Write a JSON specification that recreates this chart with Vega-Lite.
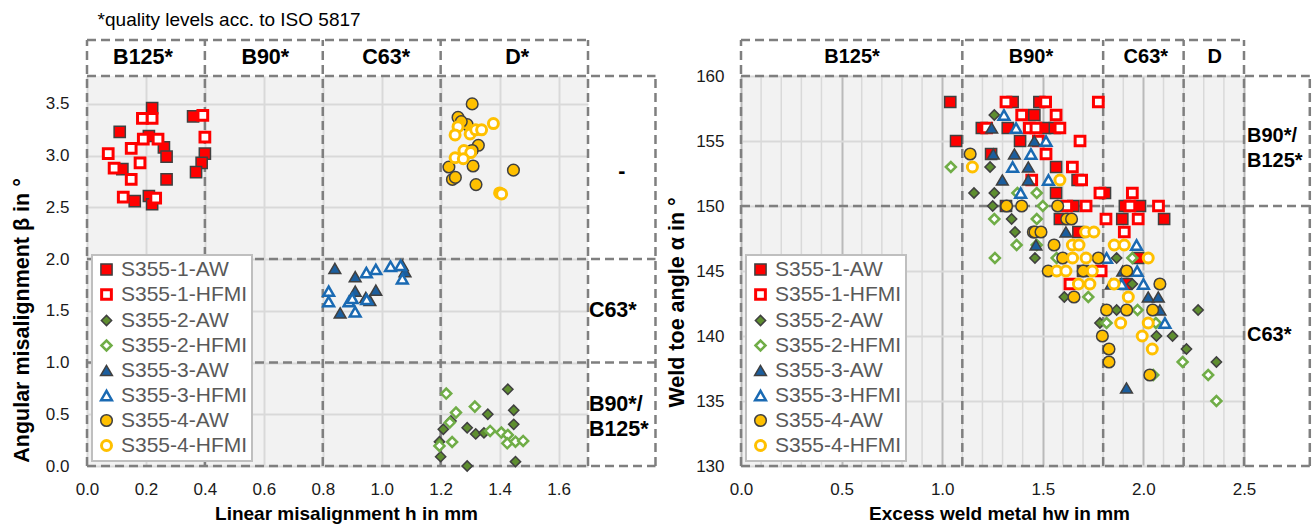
{
  "$schema": "https://vega.github.io/schema/vega-lite/v6.json",
  "background": "white",
  "padding": {"left": 11, "top": 10, "right": 2, "bottom": 2},
  "bounds": "flush",
  "spacing": 153,
  "config": {
    "font": "Liberation Sans",
    "view": {"fill": "#f2f2f2", "stroke": null},
    "axis": {
      "domain": false, "ticks": false, "tickSize": 0,
      "gridColor": "#d9d9d9", "gridWidth": 2,
      "labelFontSize": 17, "labelColor": "#1a1a1a",
      "titleFontSize": 19, "titleFontWeight": "bold", "titleColor": "#000000",
      "labelFlush": false, "labelOverlap": false, "labelBound": false
    },
    "legend": {
      "orient": "bottom-left", "offset": 5,
      "fillColor": "#ffffff", "strokeColor": "#bfbfbf", "strokeWidth": 2,
      "padding": 4, "rowPadding": 3, "labelOffset": 4,
      "labelFontSize": 21, "labelColor": "#595959", "labelFont": "Liberation Sans",
      "cornerRadius": 0
    }
  },
  "datasets": {
    "leftPts": [
      {"s":"S355-1-AW","h":0.221,"b":3.46},{"s":"S355-1-AW","h":0.111,"b":3.23},{"s":"S355-1-AW","h":0.21,"b":3.19},{"s":"S355-1-AW","h":0.261,"b":3.08},{"s":"S355-1-AW","h":0.27,"b":2.99},{"s":"S355-1-AW","h":0.12,"b":2.87},{"s":"S355-1-AW","h":0.27,"b":2.77},{"s":"S355-1-AW","h":0.162,"b":2.56},{"s":"S355-1-AW","h":0.21,"b":2.61},{"s":"S355-1-AW","h":0.221,"b":2.53},{"s":"S355-1-AW","h":0.36,"b":3.38},{"s":"S355-1-AW","h":0.4,"b":3.02},{"s":"S355-1-AW","h":0.389,"b":2.93},{"s":"S355-1-AW","h":0.37,"b":2.84},
      {"s":"S355-1-HFMI","h":0.188,"b":3.36},{"s":"S355-1-HFMI","h":0.221,"b":3.36},{"s":"S355-1-HFMI","h":0.393,"b":3.39},{"s":"S355-1-HFMI","h":0.191,"b":3.16},{"s":"S355-1-HFMI","h":0.241,"b":3.16},{"s":"S355-1-HFMI","h":0.4,"b":3.18},{"s":"S355-1-HFMI","h":0.15,"b":3.07},{"s":"S355-1-HFMI","h":0.072,"b":3.02},{"s":"S355-1-HFMI","h":0.18,"b":2.93},{"s":"S355-1-HFMI","h":0.092,"b":2.88},{"s":"S355-1-HFMI","h":0.15,"b":2.77},{"s":"S355-1-HFMI","h":0.123,"b":2.6},{"s":"S355-1-HFMI","h":0.233,"b":2.59},
      {"s":"S355-2-AW","h":1.428,"b":0.742},{"s":"S355-2-AW","h":1.448,"b":0.539},{"s":"S355-2-AW","h":1.448,"b":0.403},{"s":"S355-2-AW","h":1.454,"b":0.042},{"s":"S355-2-AW","h":1.36,"b":0.5},{"s":"S355-2-AW","h":1.29,"b":0.37},{"s":"S355-2-AW","h":1.319,"b":0.31},{"s":"S355-2-AW","h":1.347,"b":0.32},{"s":"S355-2-AW","h":1.209,"b":0.355},{"s":"S355-2-AW","h":1.196,"b":0.235},{"s":"S355-2-AW","h":1.2,"b":0.09},{"s":"S355-2-AW","h":1.29,"b":0.0},{"s":"S355-2-AW","h":1.235,"b":0.435},
      {"s":"S355-2-HFMI","h":1.219,"b":0.7},{"s":"S355-2-HFMI","h":1.252,"b":0.516},{"s":"S355-2-HFMI","h":1.316,"b":0.574},{"s":"S355-2-HFMI","h":1.231,"b":0.42},{"s":"S355-2-HFMI","h":1.239,"b":0.232},{"s":"S355-2-HFMI","h":1.196,"b":0.194},{"s":"S355-2-HFMI","h":1.368,"b":0.339},{"s":"S355-2-HFMI","h":1.406,"b":0.323},{"s":"S355-2-HFMI","h":1.428,"b":0.3},{"s":"S355-2-HFMI","h":1.426,"b":0.219},{"s":"S355-2-HFMI","h":1.454,"b":0.235},{"s":"S355-2-HFMI","h":1.48,"b":0.242},
      {"s":"S355-3-AW","h":0.841,"b":1.91},{"s":"S355-3-AW","h":0.91,"b":1.83},{"s":"S355-3-AW","h":0.91,"b":1.69},{"s":"S355-3-AW","h":0.98,"b":1.7},{"s":"S355-3-AW","h":0.946,"b":1.63},{"s":"S355-3-AW","h":0.859,"b":1.48},{"s":"S355-3-AW","h":1.07,"b":1.94},{"s":"S355-3-AW","h":1.079,"b":1.88},{"s":"S355-3-AW","h":0.96,"b":1.6},
      {"s":"S355-3-HFMI","h":0.82,"b":1.69},{"s":"S355-3-HFMI","h":0.82,"b":1.59},{"s":"S355-3-HFMI","h":0.889,"b":1.59},{"s":"S355-3-HFMI","h":0.91,"b":1.49},{"s":"S355-3-HFMI","h":0.949,"b":1.61},{"s":"S355-3-HFMI","h":0.948,"b":1.87},{"s":"S355-3-HFMI","h":0.98,"b":1.9},{"s":"S355-3-HFMI","h":1.03,"b":1.93},{"s":"S355-3-HFMI","h":1.064,"b":1.94},{"s":"S355-3-HFMI","h":1.07,"b":1.81},{"s":"S355-3-HFMI","h":0.9,"b":1.62},
      {"s":"S355-4-AW","h":1.307,"b":3.5},{"s":"S355-4-AW","h":1.259,"b":3.37},{"s":"S355-4-AW","h":1.29,"b":3.3},{"s":"S355-4-AW","h":1.27,"b":3.33},{"s":"S355-4-AW","h":1.328,"b":3.1},{"s":"S355-4-AW","h":1.307,"b":3.05},{"s":"S355-4-AW","h":1.228,"b":2.89},{"s":"S355-4-AW","h":1.31,"b":2.9},{"s":"S355-4-AW","h":1.24,"b":2.77},{"s":"S355-4-AW","h":1.25,"b":2.79},{"s":"S355-4-AW","h":1.32,"b":2.72},{"s":"S355-4-AW","h":1.447,"b":2.86},
      {"s":"S355-4-HFMI","h":1.259,"b":3.28},{"s":"S355-4-HFMI","h":1.249,"b":3.2},{"s":"S355-4-HFMI","h":1.3,"b":3.21},{"s":"S355-4-HFMI","h":1.319,"b":3.25},{"s":"S355-4-HFMI","h":1.339,"b":3.25},{"s":"S355-4-HFMI","h":1.379,"b":3.31},{"s":"S355-4-HFMI","h":1.279,"b":3.05},{"s":"S355-4-HFMI","h":1.302,"b":3.03},{"s":"S355-4-HFMI","h":1.249,"b":2.98},{"s":"S355-4-HFMI","h":1.277,"b":2.97},{"s":"S355-4-HFMI","h":1.4,"b":2.64},{"s":"S355-4-HFMI","h":1.407,"b":2.63}
    ],
    "rightPts": [
      {"s":"S355-1-AW","hw":1.04,"a":158},{"s":"S355-1-AW","hw":1.35,"a":158},{"s":"S355-1-AW","hw":1.483,"a":158},{"s":"S355-1-AW","hw":1.458,"a":157},{"s":"S355-1-AW","hw":1.197,"a":156},{"s":"S355-1-AW","hw":1.326,"a":156},{"s":"S355-1-AW","hw":1.511,"a":156},{"s":"S355-1-AW","hw":1.56,"a":156},{"s":"S355-1-AW","hw":1.069,"a":155},{"s":"S355-1-AW","hw":1.387,"a":155},{"s":"S355-1-AW","hw":1.243,"a":154},{"s":"S355-1-AW","hw":1.566,"a":153},{"s":"S355-1-AW","hw":1.673,"a":152},{"s":"S355-1-AW","hw":1.566,"a":151},{"s":"S355-1-AW","hw":1.809,"a":151},{"s":"S355-1-AW","hw":1.317,"a":150},{"s":"S355-1-AW","hw":1.652,"a":150},{"s":"S355-1-AW","hw":1.908,"a":150},{"s":"S355-1-AW","hw":1.983,"a":150},{"s":"S355-1-AW","hw":1.585,"a":149},{"s":"S355-1-AW","hw":1.895,"a":149},{"s":"S355-1-AW","hw":2.103,"a":149},{"s":"S355-1-AW","hw":1.677,"a":148},{"s":"S355-1-AW","hw":1.974,"a":146},{"s":"S355-1-AW","hw":1.7,"a":145},{"s":"S355-1-AW","hw":1.913,"a":144},
      {"s":"S355-1-HFMI","hw":1.317,"a":158},{"s":"S355-1-HFMI","hw":1.514,"a":158},{"s":"S355-1-HFMI","hw":1.776,"a":158},{"s":"S355-1-HFMI","hw":1.395,"a":157},{"s":"S355-1-HFMI","hw":1.566,"a":157},{"s":"S355-1-HFMI","hw":1.221,"a":156},{"s":"S355-1-HFMI","hw":1.433,"a":156},{"s":"S355-1-HFMI","hw":1.466,"a":156},{"s":"S355-1-HFMI","hw":1.585,"a":156},{"s":"S355-1-HFMI","hw":1.478,"a":155},{"s":"S355-1-HFMI","hw":1.685,"a":155},{"s":"S355-1-HFMI","hw":1.516,"a":154},{"s":"S355-1-HFMI","hw":1.647,"a":153},{"s":"S355-1-HFMI","hw":1.445,"a":152},{"s":"S355-1-HFMI","hw":1.693,"a":152},{"s":"S355-1-HFMI","hw":1.784,"a":151},{"s":"S355-1-HFMI","hw":1.945,"a":151},{"s":"S355-1-HFMI","hw":1.619,"a":150},{"s":"S355-1-HFMI","hw":1.715,"a":150},{"s":"S355-1-HFMI","hw":1.933,"a":150},{"s":"S355-1-HFMI","hw":2.075,"a":150},{"s":"S355-1-HFMI","hw":1.814,"a":149},{"s":"S355-1-HFMI","hw":1.974,"a":149},{"s":"S355-1-HFMI","hw":1.905,"a":148},{"s":"S355-1-HFMI","hw":1.79,"a":145},{"s":"S355-1-HFMI","hw":1.635,"a":144},
      {"s":"S355-2-AW","hw":1.259,"a":157},{"s":"S355-2-AW","hw":1.238,"a":153},{"s":"S355-2-AW","hw":1.158,"a":151},{"s":"S355-2-AW","hw":1.259,"a":151},{"s":"S355-2-AW","hw":1.251,"a":150},{"s":"S355-2-AW","hw":1.345,"a":149},{"s":"S355-2-AW","hw":1.362,"a":148},{"s":"S355-2-AW","hw":1.461,"a":146},{"s":"S355-2-AW","hw":1.867,"a":146},{"s":"S355-2-AW","hw":1.945,"a":144},{"s":"S355-2-AW","hw":1.607,"a":143},{"s":"S355-2-AW","hw":1.867,"a":142},{"s":"S355-2-AW","hw":2.272,"a":142},{"s":"S355-2-AW","hw":1.784,"a":141},{"s":"S355-2-AW","hw":2.065,"a":140},{"s":"S355-2-AW","hw":2.145,"a":140},{"s":"S355-2-AW","hw":2.214,"a":139},{"s":"S355-2-AW","hw":2.363,"a":138},
      {"s":"S355-2-HFMI","hw":1.043,"a":153},{"s":"S355-2-HFMI","hw":1.374,"a":151},{"s":"S355-2-HFMI","hw":1.47,"a":151},{"s":"S355-2-HFMI","hw":1.5,"a":150},{"s":"S355-2-HFMI","hw":1.259,"a":149},{"s":"S355-2-HFMI","hw":1.47,"a":149},{"s":"S355-2-HFMI","hw":1.37,"a":147},{"s":"S355-2-HFMI","hw":1.47,"a":147},{"s":"S355-2-HFMI","hw":1.262,"a":146},{"s":"S355-2-HFMI","hw":1.569,"a":146},{"s":"S355-2-HFMI","hw":1.945,"a":146},{"s":"S355-2-HFMI","hw":1.726,"a":143},{"s":"S355-2-HFMI","hw":1.971,"a":142},{"s":"S355-2-HFMI","hw":1.817,"a":141},{"s":"S355-2-HFMI","hw":2.062,"a":141},{"s":"S355-2-HFMI","hw":2.195,"a":138},{"s":"S355-2-HFMI","hw":2.049,"a":137},{"s":"S355-2-HFMI","hw":2.322,"a":137},{"s":"S355-2-HFMI","hw":2.363,"a":135},
      {"s":"S355-3-AW","hw":1.246,"a":156},{"s":"S355-3-AW","hw":1.458,"a":155},{"s":"S355-3-AW","hw":1.254,"a":154},{"s":"S355-3-AW","hw":1.359,"a":154},{"s":"S355-3-AW","hw":1.428,"a":153},{"s":"S355-3-AW","hw":1.299,"a":152},{"s":"S355-3-AW","hw":1.428,"a":152},{"s":"S355-3-AW","hw":1.615,"a":148},{"s":"S355-3-AW","hw":1.466,"a":147},{"s":"S355-3-AW","hw":1.897,"a":145},{"s":"S355-3-AW","hw":1.84,"a":144},{"s":"S355-3-AW","hw":2.024,"a":143},{"s":"S355-3-AW","hw":2.074,"a":143},{"s":"S355-3-AW","hw":2.082,"a":142},{"s":"S355-3-AW","hw":1.916,"a":136},
      {"s":"S355-3-HFMI","hw":1.307,"a":157},{"s":"S355-3-HFMI","hw":1.367,"a":156},{"s":"S355-3-HFMI","hw":1.516,"a":155},{"s":"S355-3-HFMI","hw":1.441,"a":154},{"s":"S355-3-HFMI","hw":1.35,"a":153},{"s":"S355-3-HFMI","hw":1.528,"a":152},{"s":"S355-3-HFMI","hw":1.39,"a":151},{"s":"S355-3-HFMI","hw":1.966,"a":147},{"s":"S355-3-HFMI","hw":1.817,"a":146},{"s":"S355-3-HFMI","hw":1.969,"a":145},{"s":"S355-3-HFMI","hw":1.892,"a":144},{"s":"S355-3-HFMI","hw":2.0,"a":144},{"s":"S355-3-HFMI","hw":2.107,"a":141},
      {"s":"S355-4-AW","hw":1.139,"a":154},{"s":"S355-4-AW","hw":1.32,"a":150},{"s":"S355-4-AW","hw":1.395,"a":150},{"s":"S355-4-AW","hw":1.574,"a":150},{"s":"S355-4-AW","hw":1.619,"a":149},{"s":"S355-4-AW","hw":1.643,"a":149},{"s":"S355-4-AW","hw":1.453,"a":148},{"s":"S355-4-AW","hw":1.461,"a":148},{"s":"S355-4-AW","hw":1.491,"a":148},{"s":"S355-4-AW","hw":1.556,"a":147},{"s":"S355-4-AW","hw":1.599,"a":146},{"s":"S355-4-AW","hw":1.776,"a":146},{"s":"S355-4-AW","hw":1.527,"a":145},{"s":"S355-4-AW","hw":1.701,"a":145},{"s":"S355-4-AW","hw":1.917,"a":145},{"s":"S355-4-AW","hw":2.082,"a":144},{"s":"S355-4-AW","hw":1.655,"a":143},{"s":"S355-4-AW","hw":1.817,"a":142},{"s":"S355-4-AW","hw":1.917,"a":142},{"s":"S355-4-AW","hw":2.046,"a":142},{"s":"S355-4-AW","hw":1.796,"a":140},{"s":"S355-4-AW","hw":1.829,"a":139},{"s":"S355-4-AW","hw":1.829,"a":138},{"s":"S355-4-AW","hw":2.032,"a":137},
      {"s":"S355-4-HFMI","hw":1.15,"a":153},{"s":"S355-4-HFMI","hw":1.585,"a":152},{"s":"S355-4-HFMI","hw":1.713,"a":148},{"s":"S355-4-HFMI","hw":1.754,"a":148},{"s":"S355-4-HFMI","hw":1.647,"a":147},{"s":"S355-4-HFMI","hw":1.68,"a":147},{"s":"S355-4-HFMI","hw":1.855,"a":147},{"s":"S355-4-HFMI","hw":1.905,"a":147},{"s":"S355-4-HFMI","hw":1.648,"a":146},{"s":"S355-4-HFMI","hw":1.715,"a":146},{"s":"S355-4-HFMI","hw":2.024,"a":146},{"s":"S355-4-HFMI","hw":1.569,"a":145},{"s":"S355-4-HFMI","hw":1.615,"a":145},{"s":"S355-4-HFMI","hw":1.746,"a":145},{"s":"S355-4-HFMI","hw":1.677,"a":144},{"s":"S355-4-HFMI","hw":1.734,"a":144},{"s":"S355-4-HFMI","hw":1.854,"a":144},{"s":"S355-4-HFMI","hw":1.925,"a":143},{"s":"S355-4-HFMI","hw":1.887,"a":141},{"s":"S355-4-HFMI","hw":2.024,"a":141},{"s":"S355-4-HFMI","hw":1.994,"a":140},{"s":"S355-4-HFMI","hw":2.044,"a":139}
    ],
    "minorGrid": [
      {"g":0.1},{"g":0.2},{"g":0.3},{"g":0.4},{"g":0.6},{"g":0.7},{"g":0.8},{"g":0.9},{"g":1.1},{"g":1.2},{"g":1.3},{"g":1.4},{"g":1.6},{"g":1.7},{"g":1.8},{"g":1.9},{"g":2.1},{"g":2.2},{"g":2.3},{"g":2.4}
    ],
    "leftRules": [
      {"x":0,"x2":0,"y":0,"y2":4.118},{"x":0.4,"x2":0.4,"y":0,"y2":4.118},{"x":0.8,"x2":0.8,"y":0,"y2":4.118},{"x":1.2,"x2":1.2,"y":0,"y2":4.118},{"x":1.7,"x2":1.7,"y":0,"y2":4.118},{"x":1.929,"x2":1.929,"y":0,"y2":3.77},
      {"x":0,"x2":1.7,"y":4.118,"y2":4.118},{"x":0,"x2":1.929,"y":3.77,"y2":3.77},{"x":0,"x2":1.929,"y":2,"y2":2},{"x":0,"x2":1.929,"y":1,"y2":1},{"x":0,"x2":1.929,"y":0,"y2":0}
    ],
    "rightRules": [
      {"x":0,"x2":0,"y":130,"y2":162.77},{"x":1.1,"x2":1.1,"y":130,"y2":162.77},{"x":1.8,"x2":1.8,"y":130,"y2":162.77},{"x":2.2,"x2":2.2,"y":130,"y2":162.77},{"x":2.5,"x2":2.5,"y":130,"y2":162.77},{"x":2.827,"x2":2.827,"y":130,"y2":160},
      {"x":0,"x2":2.5,"y":162.77,"y2":162.77},{"x":0,"x2":2.827,"y":160,"y2":160},{"x":0,"x2":2.827,"y":150,"y2":150},{"x":0,"x2":2.827,"y":130,"y2":130}
    ],
    "leftLabelsC": [
      {"t":"B125*","x":0.19,"y":3.944},{"t":"B90*","x":0.605,"y":3.944},{"t":"C63*","x":1.015,"y":3.944},{"t":"D*","x":1.46,"y":3.944},{"t":"-","x":1.815,"y":2.84}
    ],
    "leftLabelsL": [
      {"t":"C63*","x":1.703,"y":1.5},{"t":"B90*/","x":1.703,"y":0.585},{"t":"B125*","x":1.703,"y":0.348}
    ],
    "note": [{"t":"*quality levels acc. to ISO 5817","x":0.036,"y":4.316}],
    "rightLabelsC": [
      {"t":"B125*","x":0.552,"y":161.48},{"t":"B90*","x":1.441,"y":161.48},{"t":"C63*","x":2.012,"y":161.48},{"t":"D","x":2.355,"y":161.48}
    ],
    "rightLabelsL": [
      {"t":"B90*/","x":2.515,"y":155.35},{"t":"B125*","x":2.515,"y":153.5},{"t":"C63*","x":2.515,"y":140.1}
    ]
  },
  "resolve": {
    "scale": {"fill": "independent", "stroke": "independent", "shape": "independent", "size": "independent", "strokeWidth": "independent"},
    "legend": {"fill": "independent", "stroke": "independent", "shape": "independent", "size": "independent", "strokeWidth": "independent"}
  },
  "hconcat": [
    {
      "width": 501,
      "height": 390,
      "layer": [
        {
          "data": {"name": "leftRules"},
          "mark": {"type": "rule", "color": "#7f7f7f", "strokeWidth": 2.5, "strokeDash": [9, 5], "clip": false},
          "encoding": {
            "x": {"field": "x", "type": "quantitative", "title": "Linear misalignment h in mm",
                  "scale": {"domain": [0, 1.7], "nice": false, "zero": false},
                  "axis": {"values": [0, 0.2, 0.4, 0.6, 0.8, 1, 1.2, 1.4, 1.6], "format": ".1f", "labelOverlap": false, "labelPadding": 15, "titlePadding": 7, "titleX": 259}},
            "x2": {"field": "x2"},
            "y": {"field": "y", "type": "quantitative", "title": "Angular misalignment β in °",
                  "scale": {"domain": [0, 3.77], "nice": false, "zero": false},
                  "axis": {"values": [0, 0.5, 1, 1.5, 2, 2.5, 3, 3.5], "format": ".1f", "labelOverlap": false, "labelPadding": 18, "titlePadding": 12, "titleY": 244, "titleFontSize": 21.5}},
            "y2": {"field": "y2"}
          }
        },
        {
          "data": {"name": "leftPts"},
          "mark": {"type": "point", "opacity": 1},
          "encoding": {
            "x": {"field": "h", "type": "quantitative", "title": "Linear misalignment h in mm", "scale": {"domain": [0, 1.7], "nice": false, "zero": false}},
            "y": {"field": "b", "type": "quantitative", "title": "Angular misalignment β in °", "scale": {"domain": [0, 3.77], "nice": false, "zero": false}},
            "shape": {"field": "s", "type": "nominal", "title": null, "scale": {"domain": ["S355-1-AW","S355-1-HFMI","S355-2-AW","S355-2-HFMI","S355-3-AW","S355-3-HFMI","S355-4-AW","S355-4-HFMI"], "range": ["square","square","diamond","diamond","triangle-up","triangle-up","circle","circle"]}},
            "fill": {"field": "s", "type": "nominal", "title": null, "scale": {"domain": ["S355-1-AW","S355-1-HFMI","S355-2-AW","S355-2-HFMI","S355-3-AW","S355-3-HFMI","S355-4-AW","S355-4-HFMI"], "range": ["#ff0000","#ffffff","#5e8e2f","#ffffff","#1b5e9e","#ffffff","#ffc000","#ffffff"]}},
            "stroke": {"field": "s", "type": "nominal", "title": null, "scale": {"domain": ["S355-1-AW","S355-1-HFMI","S355-2-AW","S355-2-HFMI","S355-3-AW","S355-3-HFMI","S355-4-AW","S355-4-HFMI"], "range": ["#404040","#ff0000","#404040","#70ad47","#404040","#1a6ab3","#404040","#ffc000"]}},
            "size": {"field": "s", "type": "nominal", "title": null, "scale": {"type": "ordinal", "domain": ["S355-1-AW","S355-1-HFMI","S355-2-AW","S355-2-HFMI","S355-3-AW","S355-3-HFMI","S355-4-AW","S355-4-HFMI"], "range": [125, 95, 105, 100, 140, 115, 135, 100]}},
            "strokeWidth": {"field": "s", "type": "nominal", "title": null, "scale": {"type": "ordinal", "domain": ["S355-1-AW","S355-1-HFMI","S355-2-AW","S355-2-HFMI","S355-3-AW","S355-3-HFMI","S355-4-AW","S355-4-HFMI"], "range": [1.5, 3, 1.5, 2.5, 1.5, 2.5, 1.5, 3]}}
          }
        },
        {
          "data": {"name": "leftLabelsC"},
          "mark": {"type": "text", "align": "center", "baseline": "middle", "fontSize": 21.5, "fontWeight": "bold", "color": "#000000", "clip": false},
          "encoding": {
            "x": {"field": "x", "type": "quantitative", "title": "Linear misalignment h in mm", "scale": {"domain": [0, 1.7], "nice": false, "zero": false}},
            "y": {"field": "y", "type": "quantitative", "title": "Angular misalignment β in °", "scale": {"domain": [0, 3.77], "nice": false, "zero": false}},
            "text": {"field": "t"}
          }
        },
        {
          "data": {"name": "leftLabelsL"},
          "mark": {"type": "text", "align": "left", "baseline": "middle", "fontSize": 21.5, "fontWeight": "bold", "color": "#000000", "clip": false},
          "encoding": {
            "x": {"field": "x", "type": "quantitative", "title": "Linear misalignment h in mm", "scale": {"domain": [0, 1.7], "nice": false, "zero": false}},
            "y": {"field": "y", "type": "quantitative", "title": "Angular misalignment β in °", "scale": {"domain": [0, 3.77], "nice": false, "zero": false}},
            "text": {"field": "t"}
          }
        },
        {
          "data": {"name": "note"},
          "mark": {"type": "text", "align": "left", "baseline": "middle", "fontSize": 19, "color": "#000000", "clip": false},
          "encoding": {
            "x": {"field": "x", "type": "quantitative", "title": "Linear misalignment h in mm", "scale": {"domain": [0, 1.7], "nice": false, "zero": false}},
            "y": {"field": "y", "type": "quantitative", "title": "Angular misalignment β in °", "scale": {"domain": [0, 3.77], "nice": false, "zero": false}},
            "text": {"field": "t"}
          }
        }
      ]
    },
    {
      "width": 503,
      "height": 390,
      "layer": [
        {
          "data": {"name": "minorGrid"},
          "mark": {"type": "rule", "color": "#d9d9d9", "strokeWidth": 1.5},
          "encoding": {
            "x": {"field": "g", "type": "quantitative", "title": "Excess weld metal hw in mm",
                  "scale": {"domain": [0, 2.5], "nice": false, "zero": false},
                  "axis": {"values": [0, 0.5, 1, 1.5, 2, 2.5], "format": ".1f", "labelOverlap": false,
                           "gridColor": "#bababa", "gridWidth": 2,
                           "labelPadding": 15, "titlePadding": 7, "titleX": 258}}
          }
        },
        {
          "data": {"name": "rightRules"},
          "mark": {"type": "rule", "color": "#7f7f7f", "strokeWidth": 2.5, "strokeDash": [9, 5], "clip": false},
          "encoding": {
            "x": {"field": "x", "type": "quantitative", "title": "Excess weld metal hw in mm", "scale": {"domain": [0, 2.5], "nice": false, "zero": false}},
            "x2": {"field": "x2"},
            "y": {"field": "y", "type": "quantitative", "title": "Weld toe angle α in °",
                  "scale": {"domain": [130, 160], "nice": false, "zero": false},
                  "axis": {"values": [130, 135, 140, 145, 150, 155, 160], "format": "d", "labelOverlap": false, "labelPadding": 17, "titlePadding": 7, "titleY": 226, "titleFontSize": 21.5}},
            "y2": {"field": "y2"}
          }
        },
        {
          "data": {"name": "rightPts"},
          "mark": {"type": "point", "opacity": 1},
          "encoding": {
            "x": {"field": "hw", "type": "quantitative", "title": "Excess weld metal hw in mm", "scale": {"domain": [0, 2.5], "nice": false, "zero": false}},
            "y": {"field": "a", "type": "quantitative", "title": "Weld toe angle α in °", "scale": {"domain": [130, 160], "nice": false, "zero": false}},
            "shape": {"field": "s", "type": "nominal", "title": null, "scale": {"domain": ["S355-1-AW","S355-1-HFMI","S355-2-AW","S355-2-HFMI","S355-3-AW","S355-3-HFMI","S355-4-AW","S355-4-HFMI"], "range": ["square","square","diamond","diamond","triangle-up","triangle-up","circle","circle"]}},
            "fill": {"field": "s", "type": "nominal", "title": null, "scale": {"domain": ["S355-1-AW","S355-1-HFMI","S355-2-AW","S355-2-HFMI","S355-3-AW","S355-3-HFMI","S355-4-AW","S355-4-HFMI"], "range": ["#ff0000","#ffffff","#5e8e2f","#ffffff","#1b5e9e","#ffffff","#ffc000","#ffffff"]}},
            "stroke": {"field": "s", "type": "nominal", "title": null, "scale": {"domain": ["S355-1-AW","S355-1-HFMI","S355-2-AW","S355-2-HFMI","S355-3-AW","S355-3-HFMI","S355-4-AW","S355-4-HFMI"], "range": ["#404040","#ff0000","#404040","#70ad47","#404040","#1a6ab3","#404040","#ffc000"]}},
            "size": {"field": "s", "type": "nominal", "title": null, "scale": {"type": "ordinal", "domain": ["S355-1-AW","S355-1-HFMI","S355-2-AW","S355-2-HFMI","S355-3-AW","S355-3-HFMI","S355-4-AW","S355-4-HFMI"], "range": [125, 95, 105, 100, 140, 115, 135, 100]}},
            "strokeWidth": {"field": "s", "type": "nominal", "title": null, "scale": {"type": "ordinal", "domain": ["S355-1-AW","S355-1-HFMI","S355-2-AW","S355-2-HFMI","S355-3-AW","S355-3-HFMI","S355-4-AW","S355-4-HFMI"], "range": [1.5, 3, 1.5, 2.5, 1.5, 2.5, 1.5, 3]}}
          }
        },
        {
          "data": {"name": "rightLabelsC"},
          "mark": {"type": "text", "align": "center", "baseline": "middle", "fontSize": 20, "fontWeight": "bold", "color": "#000000", "clip": false},
          "encoding": {
            "x": {"field": "x", "type": "quantitative", "title": "Excess weld metal hw in mm", "scale": {"domain": [0, 2.5], "nice": false, "zero": false}},
            "y": {"field": "y", "type": "quantitative", "title": "Weld toe angle α in °", "scale": {"domain": [130, 160], "nice": false, "zero": false}},
            "text": {"field": "t"}
          }
        },
        {
          "data": {"name": "rightLabelsL"},
          "mark": {"type": "text", "align": "left", "baseline": "middle", "fontSize": 20, "fontWeight": "bold", "color": "#000000", "clip": false},
          "encoding": {
            "x": {"field": "x", "type": "quantitative", "title": "Excess weld metal hw in mm", "scale": {"domain": [0, 2.5], "nice": false, "zero": false}},
            "y": {"field": "y", "type": "quantitative", "title": "Weld toe angle α in °", "scale": {"domain": [130, 160], "nice": false, "zero": false}},
            "text": {"field": "t"}
          }
        }
      ]
    }
  ]
}
